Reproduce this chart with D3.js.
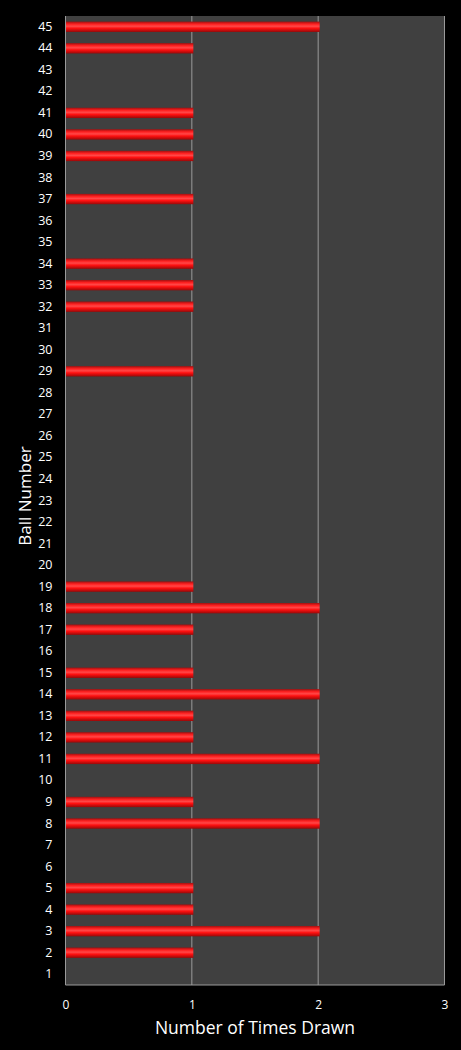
<!DOCTYPE html>
<html><head><meta charset="utf-8">
<script src="https://cdn.jsdelivr.net/npm/d3@7"></script>
<style>body{margin:0;background:#000}svg{display:block}</style>
</head><body>
<script>
const balls = d3.range(1, 46);
const timesDrawn = [0,1,2,1,1,0,0,2,1,0,2,1,1,2,1,0,1,2,1,0,0,0,0,0,0,0,0,0,1,0,0,1,1,1,0,0,1,0,1,1,1,0,0,1,2];
const xTicks = [0,1,2,3];

const W = 461, H = 1050;
const m = {left: 65.5, right: 16.5, top: 16, bottom: 65};
const svg = d3.select("body").append("svg").attr("width", W).attr("height", H);
svg.append("rect").attr("width", W).attr("height", H).attr("fill", "#000");

const x = d3.scaleLinear().domain([0, 3]).range([m.left, W - m.right]);
const y = d3.scaleBand().domain(balls.slice().reverse()).range([m.top, H - m.bottom]).paddingInner(0.52).paddingOuter(0.26);

const defs = svg.append("defs");
const g = defs.append("linearGradient").attr("id", "bar").attr("x1", 0).attr("y1", 0).attr("x2", 0).attr("y2", 1);
g.append("stop").attr("offset", "0%").attr("stop-color", "#a01010");
g.append("stop").attr("offset", "25%").attr("stop-color", "#ff2020");
g.append("stop").attr("offset", "45%").attr("stop-color", "#ff4848");
g.append("stop").attr("offset", "65%").attr("stop-color", "#ff1010");
g.append("stop").attr("offset", "100%").attr("stop-color", "#980808");

svg.append("rect").attr("x", m.left).attr("y", m.top).attr("width", x(3) - m.left).attr("height", H - m.bottom - m.top).attr("fill", "#404040");

svg.append("g").selectAll("line").data(xTicks.slice(1)).join("line")
  .attr("x1", d => x(d)).attr("x2", d => x(d)).attr("y1", m.top).attr("y2", H - m.bottom)
  .attr("stroke", "#9a9a9a").attr("stroke-width", 1);

svg.append("g").selectAll("rect").data(balls.map((b, i) => ({b, v: timesDrawn[i]})).filter(d => d.v > 0)).join("rect")
  .attr("x", x(0)).attr("y", d => y(d.b)).attr("width", d => x(d.v) - x(0) + 1.5).attr("height", y.bandwidth())
  .attr("fill", "url(#bar)");

svg.append("line").attr("x1", m.left).attr("x2", m.left).attr("y1", m.top).attr("y2", H - m.bottom).attr("stroke", "#9a9a9a");
svg.append("line").attr("x1", m.left).attr("x2", x(3)).attr("y1", H - m.bottom).attr("y2", H - m.bottom).attr("stroke", "#9a9a9a");

const yAxis = svg.append("g").attr("transform", `translate(${m.left},0)`)
  .call(d3.axisLeft(y).tickSize(0).tickPadding(13));
yAxis.select(".domain").remove();
yAxis.selectAll("text").attr("fill", "#fff").style("font-family", "'Open Sans', sans-serif").style("font-size", "12.5px");

const xAxis = svg.append("g").attr("transform", `translate(0,${H - m.bottom})`)
  .call(d3.axisBottom(x).tickValues(xTicks).tickFormat(d3.format("d")).tickSize(0).tickPadding(15));
xAxis.select(".domain").remove();
xAxis.selectAll("text").attr("fill", "#fff").style("font-family", "'Open Sans', sans-serif").style("font-size", "12px");

svg.append("text").attr("x", 255).attr("y", 1034).attr("text-anchor", "middle").attr("fill", "#fff")
  .style("font-family", "'Open Sans', sans-serif").style("font-size", "17.5px").text("Number of Times Drawn");
svg.append("text").attr("transform", "translate(31,496) rotate(-90)").attr("text-anchor", "middle").attr("fill", "#fff")
  .style("font-family", "'Open Sans', sans-serif").style("font-size", "17px").text("Ball Number");
</script>
</body></html>
